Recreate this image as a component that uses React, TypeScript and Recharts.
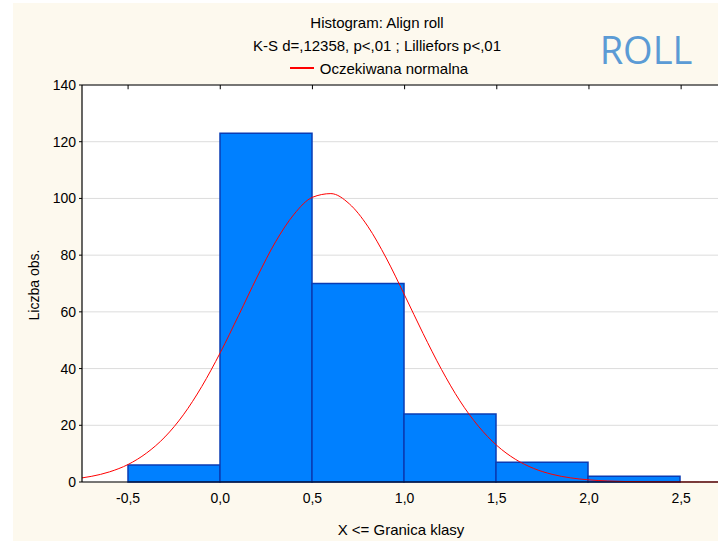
import {
  ComposedChart,
  Bar,
  Line,
  XAxis,
  YAxis,
  CartesianGrid,
  ReferenceLine,
} from "recharts";

// histogram classes (upper bound of each class) and counts
const binLabels = ["0,0", "0,5", "1,0", "1,5", "2,0", "2,5"];
const counts = [6, 123, 70, 24, 7, 2];

// expected normal curve
const curveX = [
  -0.75, -0.7, -0.6, -0.5, -0.4, -0.3, -0.2, -0.1, 0, 0.1, 0.2, 0.3, 0.4, 0.5,
  0.6, 0.7, 0.8, 0.9, 1.0, 1.1, 1.2, 1.3, 1.4, 1.5, 1.6, 1.7, 1.8, 1.9, 2.0,
  2.1, 2.2, 2.3, 2.4, 2.5, 2.6, 2.7,
];
const curveY = [
  1.45, 1.98, 3.59, 6.18, 10.2, 15.9, 23.7, 33.7, 45.6, 58.8, 72.3, 84.7, 94.4,
  100.4, 101.7, 98.1, 90.2, 79.0, 65.9, 52.4, 39.7, 28.6, 19.7, 12.9, 8.05,
  4.79, 2.71, 1.46, 0.75, 0.37, 0.17, 0.08, 0.03, 0.01, 0.005, 0.002,
];

const xTicks = [-0.5, 0, 0.5, 1, 1.5, 2, 2.5];
const yTicks = [0, 20, 40, 60, 80, 100, 120, 140];
const yMax = 140;

const bars = binLabels.map((bin, i) => ({ bin, count: counts[i] }));
const curve = curveX.map((x, i) => ({ x, y: curveY[i] }));

const fmt = (v: number) => v.toFixed(1).replace(".", ",");

const FONT = "'Liberation Sans', Arial, sans-serif";

const txt = (
  left: number,
  top: number,
  s: string,
  extra: React.CSSProperties = {}
) => (
  <div
    style={{
      position: "absolute",
      left,
      top,
      transform: "translate(-50%, -50%)",
      whiteSpace: "nowrap",
      fontFamily: FONT,
      fontSize: 15,
      color: "#000",
      ...extra,
    }}
  >
    {s}
  </div>
);

export default function App() {
  return (
    <div
      style={{
        position: "absolute",
        left: 0,
        top: 0,
        width: 718,
        height: 541,
        background: "#fff",
        overflow: "hidden",
      }}
    >
      <div
        style={{
          position: "absolute",
          left: 13,
          top: 3,
          right: 0,
          bottom: 0,
          background: "#fdf9ee",
        }}
      />
      <div style={{ position: "absolute", left: 0, top: 0 }}>
        <ComposedChart
          width={718}
          height={541}
          data={bars}
          margin={{ top: 85, right: 0, bottom: 0, left: 0 }}
          barCategoryGap={0}
          barGap={0}
        >
          <CartesianGrid
            vertical={false}
            stroke="#dcdcdc"
            fill="#ffffff"
            fillOpacity={1}
            yAxisId="y"
            xAxisId="num"
          />
          <XAxis
            xAxisId="bins"
            dataKey="bin"
            type="category"
            hide
            height={0}
            padding={{ left: 46, right: 38 }}
          />
          <XAxis
            xAxisId="num"
            dataKey="x"
            type="number"
            domain={[-0.75, 2.7]}
            ticks={xTicks}
            tickFormatter={fmt}
            allowDataOverflow
            height={59}
            tickLine={false}
            tickMargin={5}
            axisLine={{ stroke: "#000", strokeWidth: 1.2 }}
            tick={{ fill: "#000", fontSize: 14, fontFamily: FONT }}
          />
          <YAxis
            yAxisId="y"
            type="number"
            domain={[0, yMax]}
            ticks={yTicks}
            width={82}
            tickSize={3}
            tickMargin={3}
            tickLine={{ stroke: "#000" }}
            axisLine={{ stroke: "#000", strokeWidth: 1.2 }}
            tick={{ fill: "#000", fontSize: 14, fontFamily: FONT }}
          />
          <Bar
            xAxisId="bins"
            yAxisId="y"
            dataKey="count"
            fill="#0080ff"
            stroke="#0a3cb4"
            strokeWidth={1.5}
            isAnimationActive={false}
          />
          <Line
            xAxisId="num"
            yAxisId="y"
            data={curve}
            dataKey="y"
            type="monotone"
            stroke="#ff0000"
            strokeWidth={1}
            dot={false}
            activeDot={false}
            isAnimationActive={false}
          />
          {/* top frame with inward ticks */}
          <ReferenceLine
            xAxisId="num"
            yAxisId="y"
            y={yMax}
            stroke="#000"
            strokeWidth={1.2}
          />
          {xTicks.map((t) => (
            <ReferenceLine
              key={t}
              xAxisId="num"
              yAxisId="y"
              segment={[
                { x: t, y: yMax },
                { x: t, y: yMax - 1.5 },
              ]}
              stroke="#000"
              strokeWidth={1}
            />
          ))}
        </ComposedChart>
      </div>
      {txt(377, 22, "Histogram: Align roll")}
      {txt(377, 45, "K-S d=,12358, p<,01 ; Lilliefors p<,01")}
      <div
        style={{
          position: "absolute",
          left: 290,
          top: 67,
          width: 24,
          height: 1.5,
          background: "#ff0000",
        }}
      />
      {txt(394, 68, "Oczekiwana normalna")}
      {txt(646, 49, "ROLL", {
        fontFamily: "'Open Sans', sans-serif",
        fontSize: 38,
        color: "#5b9bd5",
      })}
      {txt(34, 285, "Liczba obs.", {
        fontSize: 14,
        transform: "translate(-50%, -50%) rotate(-90deg)",
      })}
      {txt(401, 529, "X <= Granica klasy")}
    </div>
  );
}
